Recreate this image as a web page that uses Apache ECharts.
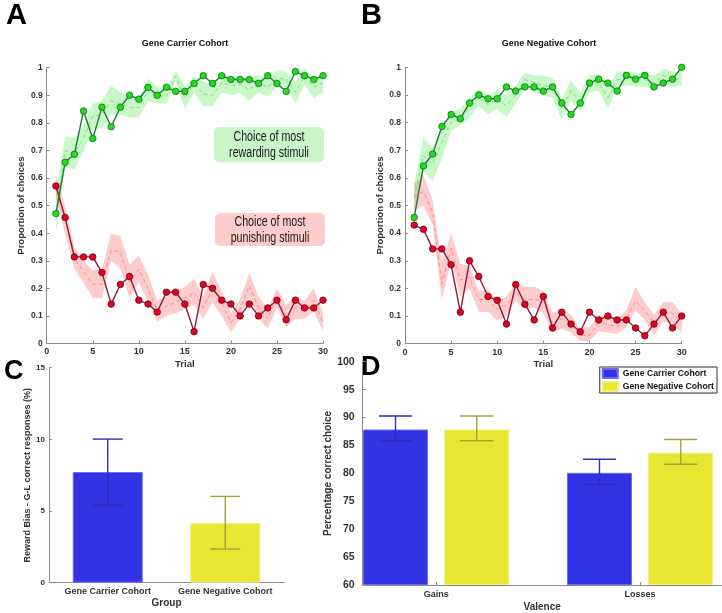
<!DOCTYPE html>
<html>
<head>
<meta charset="utf-8">
<script src="https://cdn.jsdelivr.net/npm/echarts@6/dist/echarts.min.js"></script>
<style>
html,body{margin:0;padding:0;background:#fff;}
#chart{width:722px;height:613px;}
</style>
</head>
<body>
<div id="chart"></div>
<script>
// ---------------- DATA ----------------
const trials = [1,2,3,4,5,6,7,8,9,10,11,12,13,14,15,16,17,18,19,20,21,22,23,24,25,26,27,28,29,30];

// Panel A: Gene Carrier Cohort
const carrierRewardObs  = [0.471,0.657,0.686,0.843,0.743,0.857,0.786,0.857,0.900,0.886,0.929,0.900,0.929,0.914,0.914,0.943,0.971,0.943,0.971,0.957,0.957,0.957,0.943,0.971,0.943,0.914,0.986,0.971,0.957,0.971];
const carrierRewardMean = [0.47,0.70,0.69,0.745,0.825,0.83,0.88,0.87,0.855,0.855,0.92,0.90,0.895,0.97,0.89,0.94,0.905,0.90,0.945,0.935,0.94,0.92,0.945,0.93,0.96,0.96,0.91,0.97,0.93,0.945];
const carrierRewardLow  = [0.40,0.64,0.63,0.70,0.78,0.78,0.83,0.83,0.82,0.82,0.88,0.87,0.87,0.95,0.85,0.91,0.86,0.86,0.91,0.90,0.91,0.88,0.91,0.895,0.93,0.93,0.87,0.94,0.89,0.91];
const carrierRewardHigh = [0.55,0.75,0.745,0.79,0.87,0.88,0.935,0.91,0.89,0.89,0.96,0.93,0.925,0.99,0.93,0.97,0.95,0.94,0.975,0.965,0.97,0.96,0.975,0.96,0.99,0.985,0.95,1.0,0.96,0.975];

const carrierPunishObs  = [0.571,0.457,0.314,0.314,0.314,0.257,0.143,0.214,0.243,0.157,0.143,0.114,0.186,0.186,0.143,0.043,0.214,0.200,0.157,0.143,0.100,0.143,0.100,0.129,0.157,0.086,0.157,0.129,0.129,0.157];
const carrierPunishMean = [0.57,0.45,0.31,0.26,0.215,0.215,0.34,0.33,0.225,0.27,0.20,0.12,0.135,0.15,0.165,0.185,0.13,0.20,0.15,0.075,0.125,0.21,0.13,0.09,0.165,0.10,0.13,0.125,0.155,0.075];
const carrierPunishLow  = [0.53,0.40,0.27,0.22,0.165,0.165,0.30,0.27,0.165,0.22,0.15,0.08,0.10,0.11,0.125,0.14,0.09,0.15,0.10,0.04,0.09,0.17,0.09,0.055,0.13,0.06,0.09,0.09,0.115,0.045];
const carrierPunishHigh = [0.61,0.50,0.35,0.30,0.265,0.27,0.40,0.39,0.285,0.32,0.25,0.155,0.17,0.19,0.205,0.235,0.17,0.26,0.19,0.11,0.16,0.255,0.17,0.125,0.20,0.14,0.17,0.155,0.20,0.11];

// Panel B: Gene Negative Cohort
const negativeRewardObs  = [0.457,0.643,0.686,0.786,0.829,0.814,0.871,0.900,0.886,0.886,0.929,0.914,0.929,0.929,0.914,0.929,0.871,0.829,0.871,0.943,0.957,0.943,0.914,0.971,0.957,0.971,0.929,0.943,0.957,1.000];
const negativeRewardMean = [0.53,0.68,0.65,0.73,0.80,0.815,0.855,0.89,0.865,0.885,0.86,0.90,0.955,0.945,0.935,0.925,0.85,0.915,0.875,0.94,0.945,0.89,0.955,0.96,0.955,0.955,0.945,0.97,0.955,0.96];
const negativeRewardLow  = [0.48,0.62,0.59,0.67,0.77,0.79,0.82,0.86,0.83,0.85,0.82,0.87,0.925,0.91,0.90,0.89,0.81,0.88,0.84,0.91,0.915,0.85,0.925,0.935,0.93,0.93,0.92,0.945,0.93,0.935];
const negativeRewardHigh = [0.58,0.745,0.71,0.78,0.84,0.85,0.89,0.92,0.90,0.92,0.90,0.935,0.98,0.97,0.97,0.96,0.89,0.95,0.91,0.97,0.975,0.925,0.985,0.985,0.98,0.98,0.97,0.995,0.985,0.985];

const negativePunishObs  = [0.429,0.414,0.343,0.343,0.286,0.114,0.300,0.243,0.171,0.157,0.071,0.214,0.143,0.086,0.171,0.057,0.114,0.071,0.043,0.114,0.086,0.100,0.086,0.086,0.057,0.029,0.071,0.114,0.057,0.100];
const negativePunishMean = [0.53,0.55,0.475,0.215,0.345,0.23,0.24,0.16,0.16,0.125,0.14,0.185,0.16,0.16,0.155,0.07,0.09,0.07,0.03,0.03,0.075,0.07,0.06,0.09,0.155,0.12,0.075,0.115,0.11,0.075];
const negativePunishLow  = [0.48,0.50,0.43,0.16,0.30,0.17,0.20,0.115,0.115,0.085,0.10,0.155,0.125,0.13,0.11,0.04,0.055,0.04,0.01,0.01,0.045,0.04,0.035,0.06,0.12,0.085,0.03,0.08,0.075,0.04];
const negativePunishHigh = [0.58,0.61,0.52,0.29,0.40,0.29,0.28,0.19,0.195,0.16,0.17,0.22,0.205,0.205,0.19,0.11,0.125,0.105,0.055,0.06,0.105,0.10,0.09,0.12,0.205,0.15,0.105,0.15,0.15,0.11];

// Panel C
const groups = ['Gene Carrier Cohort', 'Gene Negative Cohort'];
const rewardBias     = [7.72, 4.16];
const rewardBiasLow  = [5.40, 2.35];
const rewardBiasHigh = [10.02, 6.02];

// Panel D
const valence = ['Gains', 'Losses'];
const valencePos = [1, 2];
const carrierCorrect      = [87.85, 80.09];
const carrierCorrectLow   = [85.84, 78.01];
const carrierCorrectHigh  = [90.28, 82.52];
const negativeCorrect     = [87.85, 83.70];
const negativeCorrectLow  = [85.84, 81.63];
const negativeCorrectHigh = [90.28, 86.07];

// ---------------- STYLE ----------------
const FONT = '"Liberation Sans", Arial, Helvetica, sans-serif';
const AXC = '#8c8c8c';
const LBL = '#333333';
const BLUE = '#3333e6', YELLOW = '#e6e633';
const BLUE_ERR = '#2e2eae', YELLOW_ERR = '#a3a338';

const chart = echarts.init(document.getElementById('chart'), null, {renderer: 'canvas'});

function pairs(xs, ys) { return xs.map((x, i) => [x, ys[i]]); }

// shaded band: one polygon through upper values then back through lower values
function bandSeries(gi, low, high, color) {
  return {
    type: 'custom', xAxisIndex: gi, yAxisIndex: gi, silent: true, z: 1,
    encode: {x: 0, y: [1, 2]},
    data: trials.map((t, i) => [t, low[i], high[i]]),
    renderItem: function (params, api) {
      if (params.dataIndexInside !== 0) return null;
      const n = params.dataInsideLength;
      const top = [], bot = [];
      for (let k = 0; k < n; k++) {
        const x = api.value(0, k);
        top.push(api.coord([x, api.value(2, k)]));
        bot.push(api.coord([x, api.value(1, k)]));
      }
      return {type: 'polygon', shape: {points: top.concat(bot.reverse())}, style: {fill: color}};
    }
  };
}
function dashSeries(gi, mean, color) {
  return {type: 'line', xAxisIndex: gi, yAxisIndex: gi, data: pairs(trials, mean), symbol: 'none',
    lineStyle: {color: color, width: 1, type: [4, 3]}, silent: true, z: 2};
}
function obsSeries(gi, obs, lineColor, fill, border, z) {
  return {type: 'line', xAxisIndex: gi, yAxisIndex: gi, data: pairs(trials, obs), symbol: 'circle', symbolSize: 6.5,
    lineStyle: {color: lineColor, width: 1.4}, itemStyle: {color: fill, borderColor: border, borderWidth: 0.8},
    silent: true, z: z};
}

function propX(gi) {
  return {gridIndex: gi, type: 'value', min: 0, max: 30, interval: 5,
    name: 'Trial', nameLocation: 'middle', nameGap: 16,
    nameTextStyle: {fontFamily: FONT, fontWeight: 'bold', fontSize: 9.5, color: LBL},
    axisLine: {lineStyle: {color: AXC}}, axisTick: {inside: true, length: 3, lineStyle: {color: AXC}},
    axisLabel: {fontFamily: FONT, fontWeight: 'bold', fontSize: 9, color: LBL, margin: 4},
    splitLine: {show: false}};
}
function propY(gi) {
  return {gridIndex: gi, type: 'value', min: 0, max: 1, interval: 0.1,
    name: 'Proportion of choices', nameLocation: 'middle', nameGap: 20,
    nameTextStyle: {fontFamily: FONT, fontWeight: 'bold', fontSize: 9.5, color: LBL},
    axisLine: {show: true, lineStyle: {color: AXC}}, axisTick: {show: true, inside: true, length: 3, lineStyle: {color: AXC}},
    axisLabel: {fontFamily: FONT, fontWeight: 'bold', fontSize: 8.5, color: LBL, margin: 4},
    splitLine: {show: false}};
}

function errRender(offsetPx, colors, capW) {
  return function (params, api) {
    const x = api.value(0), lo = api.value(1), hi = api.value(2);
    const pHi = api.coord([x, hi]);
    const pLo = api.coord([x, lo]);
    const cx = pHi[0] + offsetPx;
    const st = {stroke: colors[params.dataIndex % colors.length], lineWidth: 1.4};
    return {type: 'group', children: [
      {type: 'line', shape: {x1: cx, y1: pHi[1], x2: cx, y2: pLo[1]}, style: st},
      {type: 'line', shape: {x1: cx - capW / 2, y1: pHi[1], x2: cx + capW / 2, y2: pHi[1]}, style: st},
      {type: 'line', shape: {x1: cx - capW / 2, y1: pLo[1], x2: cx + capW / 2, y2: pLo[1]}, style: st}
    ]};
  };
}

const D_BAR_W = 65, D_GAP = 0.25;
const dOff = D_BAR_W * (1 + D_GAP) / 2;

function annot(x, y, lines) {
  return {type: 'text', x: x, y: y, scaleX: 0.76, z: 11,
    style: {text: lines, x: 0, y: 0, font: '14px ' + FONT, lineHeight: 16, fill: '#1a1a1a', align: 'center', verticalAlign: 'middle'}};
}

const option = {
  backgroundColor: '#ffffff',
  animation: false,
  textStyle: {fontFamily: FONT},
  grid: [
    {left: 46.7, top: 67.7, width: 276.3, height: 275.8},
    {left: 405, top: 67.3, width: 276.7, height: 276.4},
    {left: 49, top: 367.7, width: 235, height: 215},
    {left: 362.7, top: 361.7, width: 359, height: 225}
  ],
  xAxis: [
    propX(0), propX(1),
    {gridIndex: 2, type: 'category', data: groups, name: 'Group', nameLocation: 'middle', nameGap: 16,
     nameTextStyle: {fontFamily: FONT, fontWeight: 'bold', fontSize: 10, color: LBL},
     axisLine: {lineStyle: {color: AXC}}, axisTick: {alignWithLabel: true, inside: true, length: 3, lineStyle: {color: AXC}},
     axisLabel: {interval: 0, fontFamily: FONT, fontWeight: 'bold', fontSize: 9, color: LBL, margin: 4}},
    {gridIndex: 3, type: 'value', min: 0.64, max: 2.4, name: 'Valence', nameLocation: 'middle', nameGap: 17,
     nameTextStyle: {fontFamily: FONT, fontWeight: 'bold', fontSize: 10, color: LBL},
     axisLine: {lineStyle: {color: AXC}},
     axisTick: {inside: true, length: 3, customValues: valencePos, lineStyle: {color: AXC}},
     axisLabel: {fontFamily: FONT, fontWeight: 'bold', fontSize: 9, color: LBL, margin: 5, customValues: valencePos,
       formatter: v => valence[valencePos.indexOf(Math.round(v))] || ''},
     splitLine: {show: false}}
  ],
  yAxis: [
    propY(0), propY(1),
    {gridIndex: 2, type: 'value', min: 0, max: 15, interval: 5,
     name: 'Reward Bias - G-L correct responses (%)', nameLocation: 'middle', nameGap: 14,
     nameTextStyle: {fontFamily: FONT, fontWeight: 'bold', fontSize: 9, color: LBL},
     axisLine: {show: true, lineStyle: {color: AXC}}, axisTick: {show: true, inside: true, length: 3, lineStyle: {color: AXC}},
     axisLabel: {fontFamily: FONT, fontWeight: 'bold', fontSize: 8, color: LBL, margin: 4},
     splitLine: {show: false}},
    {gridIndex: 3, type: 'value', min: 60, max: 100, interval: 5, startValue: 60,
     name: 'Percentage correct choice', nameLocation: 'middle', nameGap: 28,
     nameTextStyle: {fontFamily: FONT, fontWeight: 'bold', fontSize: 10, color: LBL},
     axisLine: {show: true, lineStyle: {color: AXC}}, axisTick: {show: true, inside: true, length: 3, lineStyle: {color: AXC}},
     axisLabel: {fontFamily: FONT, fontWeight: 'bold', fontSize: 10.5, color: LBL, margin: 8},
     splitLine: {show: false}}
  ],
  legend: {
    data: ['Gene Carrier Cohort', 'Gene Negative Cohort'],
    orient: 'vertical', right: 5, top: 367,
    itemWidth: 15, itemHeight: 9, itemGap: 2, icon: 'rect',
    padding: [1, 3, 1, 2], borderColor: '#333', borderWidth: 1, backgroundColor: '#fff',
    textStyle: {fontFamily: FONT, fontWeight: 'bold', fontSize: 8.7, lineHeight: 9, color: '#111'}
  },
  series: [
    // Panel A
    bandSeries(0, carrierRewardLow, carrierRewardHigh, 'rgba(110,235,110,0.38)'),
    bandSeries(0, carrierPunishLow, carrierPunishHigh, 'rgba(255,120,120,0.38)'),
    dashSeries(0, carrierRewardMean, '#7fe07f'),
    dashSeries(0, carrierPunishMean, '#ff8a8a'),
    obsSeries(0, carrierPunishObs, '#8a1c3e', '#e8001c', '#5a0a1a', 3),
    obsSeries(0, carrierRewardObs, '#1e7b3c', '#19e019', '#1a6b1a', 4),
    // Panel B
    bandSeries(1, negativeRewardLow, negativeRewardHigh, 'rgba(110,235,110,0.38)'),
    bandSeries(1, negativePunishLow, negativePunishHigh, 'rgba(255,120,120,0.38)'),
    dashSeries(1, negativeRewardMean, '#7fe07f'),
    dashSeries(1, negativePunishMean, '#ff8a8a'),
    obsSeries(1, negativePunishObs, '#8a1c3e', '#e8001c', '#5a0a1a', 3),
    obsSeries(1, negativeRewardObs, '#1e7b3c', '#19e019', '#1a6b1a', 4),
    // Panel C
    {type: 'bar', xAxisIndex: 2, yAxisIndex: 2, barWidth: 70, silent: true,
     data: rewardBias.map((v, i) => ({value: v, itemStyle: {color: i === 0 ? BLUE : YELLOW,
       borderColor: i === 0 ? '#6a6af0' : '#f0f07a', borderWidth: 1}}))},
    {type: 'custom', xAxisIndex: 2, yAxisIndex: 2, silent: true, z: 5,
     renderItem: errRender(0, [BLUE_ERR, YELLOW_ERR], 30), encode: {x: 0, y: [1, 2]},
     data: rewardBias.map((v, i) => [i, rewardBiasLow[i], rewardBiasHigh[i]])},
    // Panel D
    {type: 'bar', name: 'Gene Carrier Cohort', xAxisIndex: 3, yAxisIndex: 3, barWidth: D_BAR_W, barGap: '25%',
     clip: true, silent: true, itemStyle: {color: BLUE, borderColor: '#6a6af0', borderWidth: 1},
     data: pairs(valencePos, carrierCorrect)},
    {type: 'bar', name: 'Gene Negative Cohort', xAxisIndex: 3, yAxisIndex: 3, barWidth: D_BAR_W, barGap: '25%',
     clip: true, silent: true, itemStyle: {color: YELLOW, borderColor: '#f0f07a', borderWidth: 1},
     data: pairs(valencePos, negativeCorrect)},
    {type: 'custom', xAxisIndex: 3, yAxisIndex: 3, silent: true, z: 5,
     renderItem: errRender(-dOff, [BLUE_ERR], 33), encode: {x: 0, y: [1, 2]},
     data: valencePos.map((p, i) => [p, carrierCorrectLow[i], carrierCorrectHigh[i]])},
    {type: 'custom', xAxisIndex: 3, yAxisIndex: 3, silent: true, z: 5,
     renderItem: errRender(dOff, [YELLOW_ERR], 33), encode: {x: 0, y: [1, 2]},
     data: valencePos.map((p, i) => [p, negativeCorrectLow[i], negativeCorrectHigh[i]])}
  ],
  graphic: [
    // panel letters
    {type: 'text', left: 6, top: 1, style: {text: 'A', font: 'bold 29px ' + FONT, fill: '#000'}},
    {type: 'text', left: 361, top: 1, style: {text: 'B', font: 'bold 29px ' + FONT, fill: '#000'}},
    {type: 'text', left: 4, top: 358, style: {text: 'C', font: 'bold 27px ' + FONT, fill: '#000'}},
    {type: 'text', left: 361, top: 354, style: {text: 'D', font: 'bold 27px ' + FONT, fill: '#000'}},
    // titles
    {type: 'text', x: 185, y: 44, style: {text: 'Gene Carrier Cohort', font: 'bold 9px ' + FONT, fill: '#111', align: 'center', verticalAlign: 'middle'}},
    {type: 'text', x: 549, y: 44, style: {text: 'Gene Negative Cohort', font: 'bold 9px ' + FONT, fill: '#111', align: 'center', verticalAlign: 'middle'}},
    // annotation boxes
    {type: 'rect', shape: {x: 214, y: 127, width: 110, height: 35, r: 5}, style: {fill: '#c9f5c9'}, z: 10},
    annot(269, 145, 'Choice of most\nrewarding stimuli'),
    {type: 'rect', shape: {x: 215, y: 213, width: 110, height: 33, r: 5}, style: {fill: '#ffcccc'}, z: 10},
    annot(270, 230.5, 'Choice of most\npunishing stimuli')
  ]
};

chart.setOption(option);
</script>
</body>
</html>
